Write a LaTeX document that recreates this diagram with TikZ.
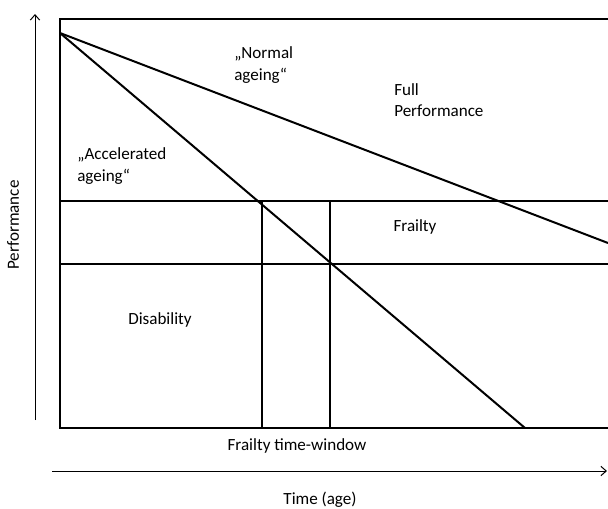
\documentclass[tikz,border=0pt]{standalone}
\usepackage{fontspec}
\setmainfont{Carlito}
\usetikzlibrary{arrows.meta}
\tikzset{
  frame/.style={line width=1.5pt},
  ageing/.style={line width=1.5pt},
  axis/.style={line width=.75pt, -{Straight Barb[length=4pt,width=7pt]}},
  label/.style={align=left, inner sep=0pt, anchor=west}
}
\begin{document}
\begin{tikzpicture}[x=.75pt, y=-.75pt, font=\fontsize{12.8}{16}\selectfont]
  \useasboundingbox (0,0) rectangle (608,508);
  % corners and levels
  \coordinate (top0) at (60,19);
  \coordinate (top1) at (608,19);
  \coordinate (bot0) at (60,428);
  \coordinate (bot1) at (608,428);
  \coordinate (start) at (60,33);
  \coordinate (fr0) at (60,201);
  \coordinate (fr1) at (608,201);
  \coordinate (dis0) at (60,264);
  \coordinate (dis1) at (608,264);
  \coordinate (normEnd) at (608,243);
  \coordinate (accEnd) at (525,428);
  % axes
  \coordinate (yBot) at (35,420);
  \coordinate (yTop) at (35,14);
  \coordinate (xLeft) at (52,471);
  \coordinate (xRight) at (607,471);
  \draw[axis] (yBot) -- (yTop);
  \draw[axis] (xLeft) -- (xRight);
  % frame
  \draw[frame] (top1) -- (top0) -- (bot0) -- (bot1);
  \draw[line width=1pt] (fr0) -- (fr1);
  \draw[line width=1.8pt] (dis0) -- (dis1);
  % frailty window
  \foreach \X in {262,330}
    \draw[line width=1pt] (\X,201) -- (\X,428);
  \draw[line width=1.5pt] (262,201) -- (335,201);
  % ageing lines
  \draw[ageing] (start) -- (normEnd);
  \draw[ageing] (start) -- (accEnd);
  % texts
  \node[label] (normal) at (234,65) {„Normal\\ageing“};
  \node[label] (full) at (394,100) {Full\\Performance};
  \node[label] (accel) at (77,166) {„Accelerated\\ageing“};
  \node (frailty) at (415,227) {Frailty};
  \node (disab) at (160,320) {Disability};
  \node (window) at (297,446) {Frailty time-window};
  \node (time) at (320,500) {Time (age)};
  \node[rotate=90] (perf) at (13,225) {Performance};
\end{tikzpicture}
\end{document}
